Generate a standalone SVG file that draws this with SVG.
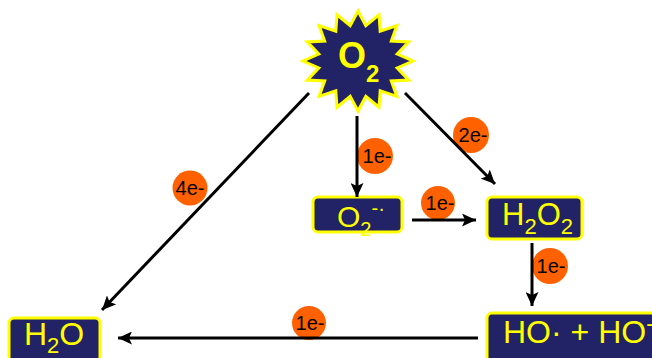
<svg xmlns="http://www.w3.org/2000/svg" width="652" height="358" viewBox="0 0 652 358">
<defs>
<style>
.box{fill:#222266;stroke:#ffff00;stroke-width:3}
.t{font-family:"Liberation Sans",Arial,sans-serif;fill:#ffff00}
.e{fill:#ff6000}
.et{font-family:"Liberation Sans",Arial,sans-serif;font-size:20px;fill:#000;text-anchor:middle}
.c{stroke:#000;stroke-width:3;fill:none;marker-end:url(#ah)}
</style>
<marker id="ah" markerUnits="userSpaceOnUse" markerWidth="15" markerHeight="13" refX="14" refY="6.5" orient="auto">
<path d="M0,0 L14,6.5 L0,13 L3,6.5 Z" fill="#000"/>
</marker>
</defs>
<rect width="652" height="358" fill="#fff"/>
<g id="o2">
<polygon class="box" points="358,11 365.8,25.7 379,14.8 380.2,31.1 396.9,25.6 391.3,41 408.8,41.9 397.2,54 413,61 397.2,68 408.8,80.1 391.3,81 396.9,96.4 380.2,90.9 379,107.2 365.8,96.3 358,111 350.2,96.3 337,107.2 335.8,90.9 319.1,96.4 324.7,81 307.2,80.1 318.8,68 303,61 318.8,54 307.2,41.9 324.7,41 319.1,25.6 335.8,31.1 337,14.8 350.2,25.7"/>
<text class="t" x="338" y="68" font-size="36" font-weight="bold">O<tspan font-size="24" dy="14">2</tspan></text>
</g>
<g id="superoxide">
<rect class="box" x="313" y="197" width="89" height="35" rx="5"/>
<text class="t" x="337" y="227" font-size="30">O<tspan font-size="20" dy="9">2</tspan><tspan font-size="20" dy="-21">-·</tspan></text>
</g>
<g id="h2o2">
<rect class="box" x="487" y="197" width="95" height="42" rx="5"/>
<text class="t" x="502" y="225" font-size="31">H<tspan font-size="22" dy="9">2</tspan><tspan dy="-9">O</tspan><tspan font-size="22" dy="9">2</tspan></text>
</g>
<g id="hydroxyl">
<rect class="box" x="487" y="313" width="175" height="55" rx="5"/>
<text class="t" x="503" y="343" font-size="32">HO· + HO<tspan font-size="22" dy="-12">-</tspan></text>
</g>
<g id="h2o">
<rect class="box" x="9" y="318" width="91" height="50" rx="5"/>
<text class="t" x="24" y="345" font-size="32">H<tspan font-size="22" dy="8">2</tspan><tspan dy="-8">O</tspan></text>
</g>
<g id="labels">
<circle class="e" cx="190" cy="188" r="17.5"/><text class="et" x="190" y="195">4e-</text>
<circle class="e" cx="375" cy="156" r="18"/><text class="et" x="377" y="163">1e-</text>
<circle class="e" cx="471" cy="135" r="18"/><text class="et" x="473" y="142">2e-</text>
<circle class="e" cx="438" cy="203" r="17"/><text class="et" x="440" y="210">1e-</text>
<circle class="e" cx="550" cy="266" r="18"/><text class="et" x="551" y="273">1e-</text>
<circle class="e" cx="309" cy="323" r="17"/><text class="et" x="310" y="330">1e-</text>
</g>
<g id="connectors">
<line class="c" x1="309" y1="93" x2="102" y2="310"/>
<line class="c" x1="357" y1="116" x2="357" y2="197"/>
<line class="c" x1="405" y1="93" x2="495" y2="184"/>
<line class="c" x1="412" y1="220" x2="476" y2="220"/>
<line class="c" x1="532" y1="243" x2="532" y2="306"/>
<line class="c" x1="478" y1="338" x2="118" y2="338"/>
</g>
</svg>
